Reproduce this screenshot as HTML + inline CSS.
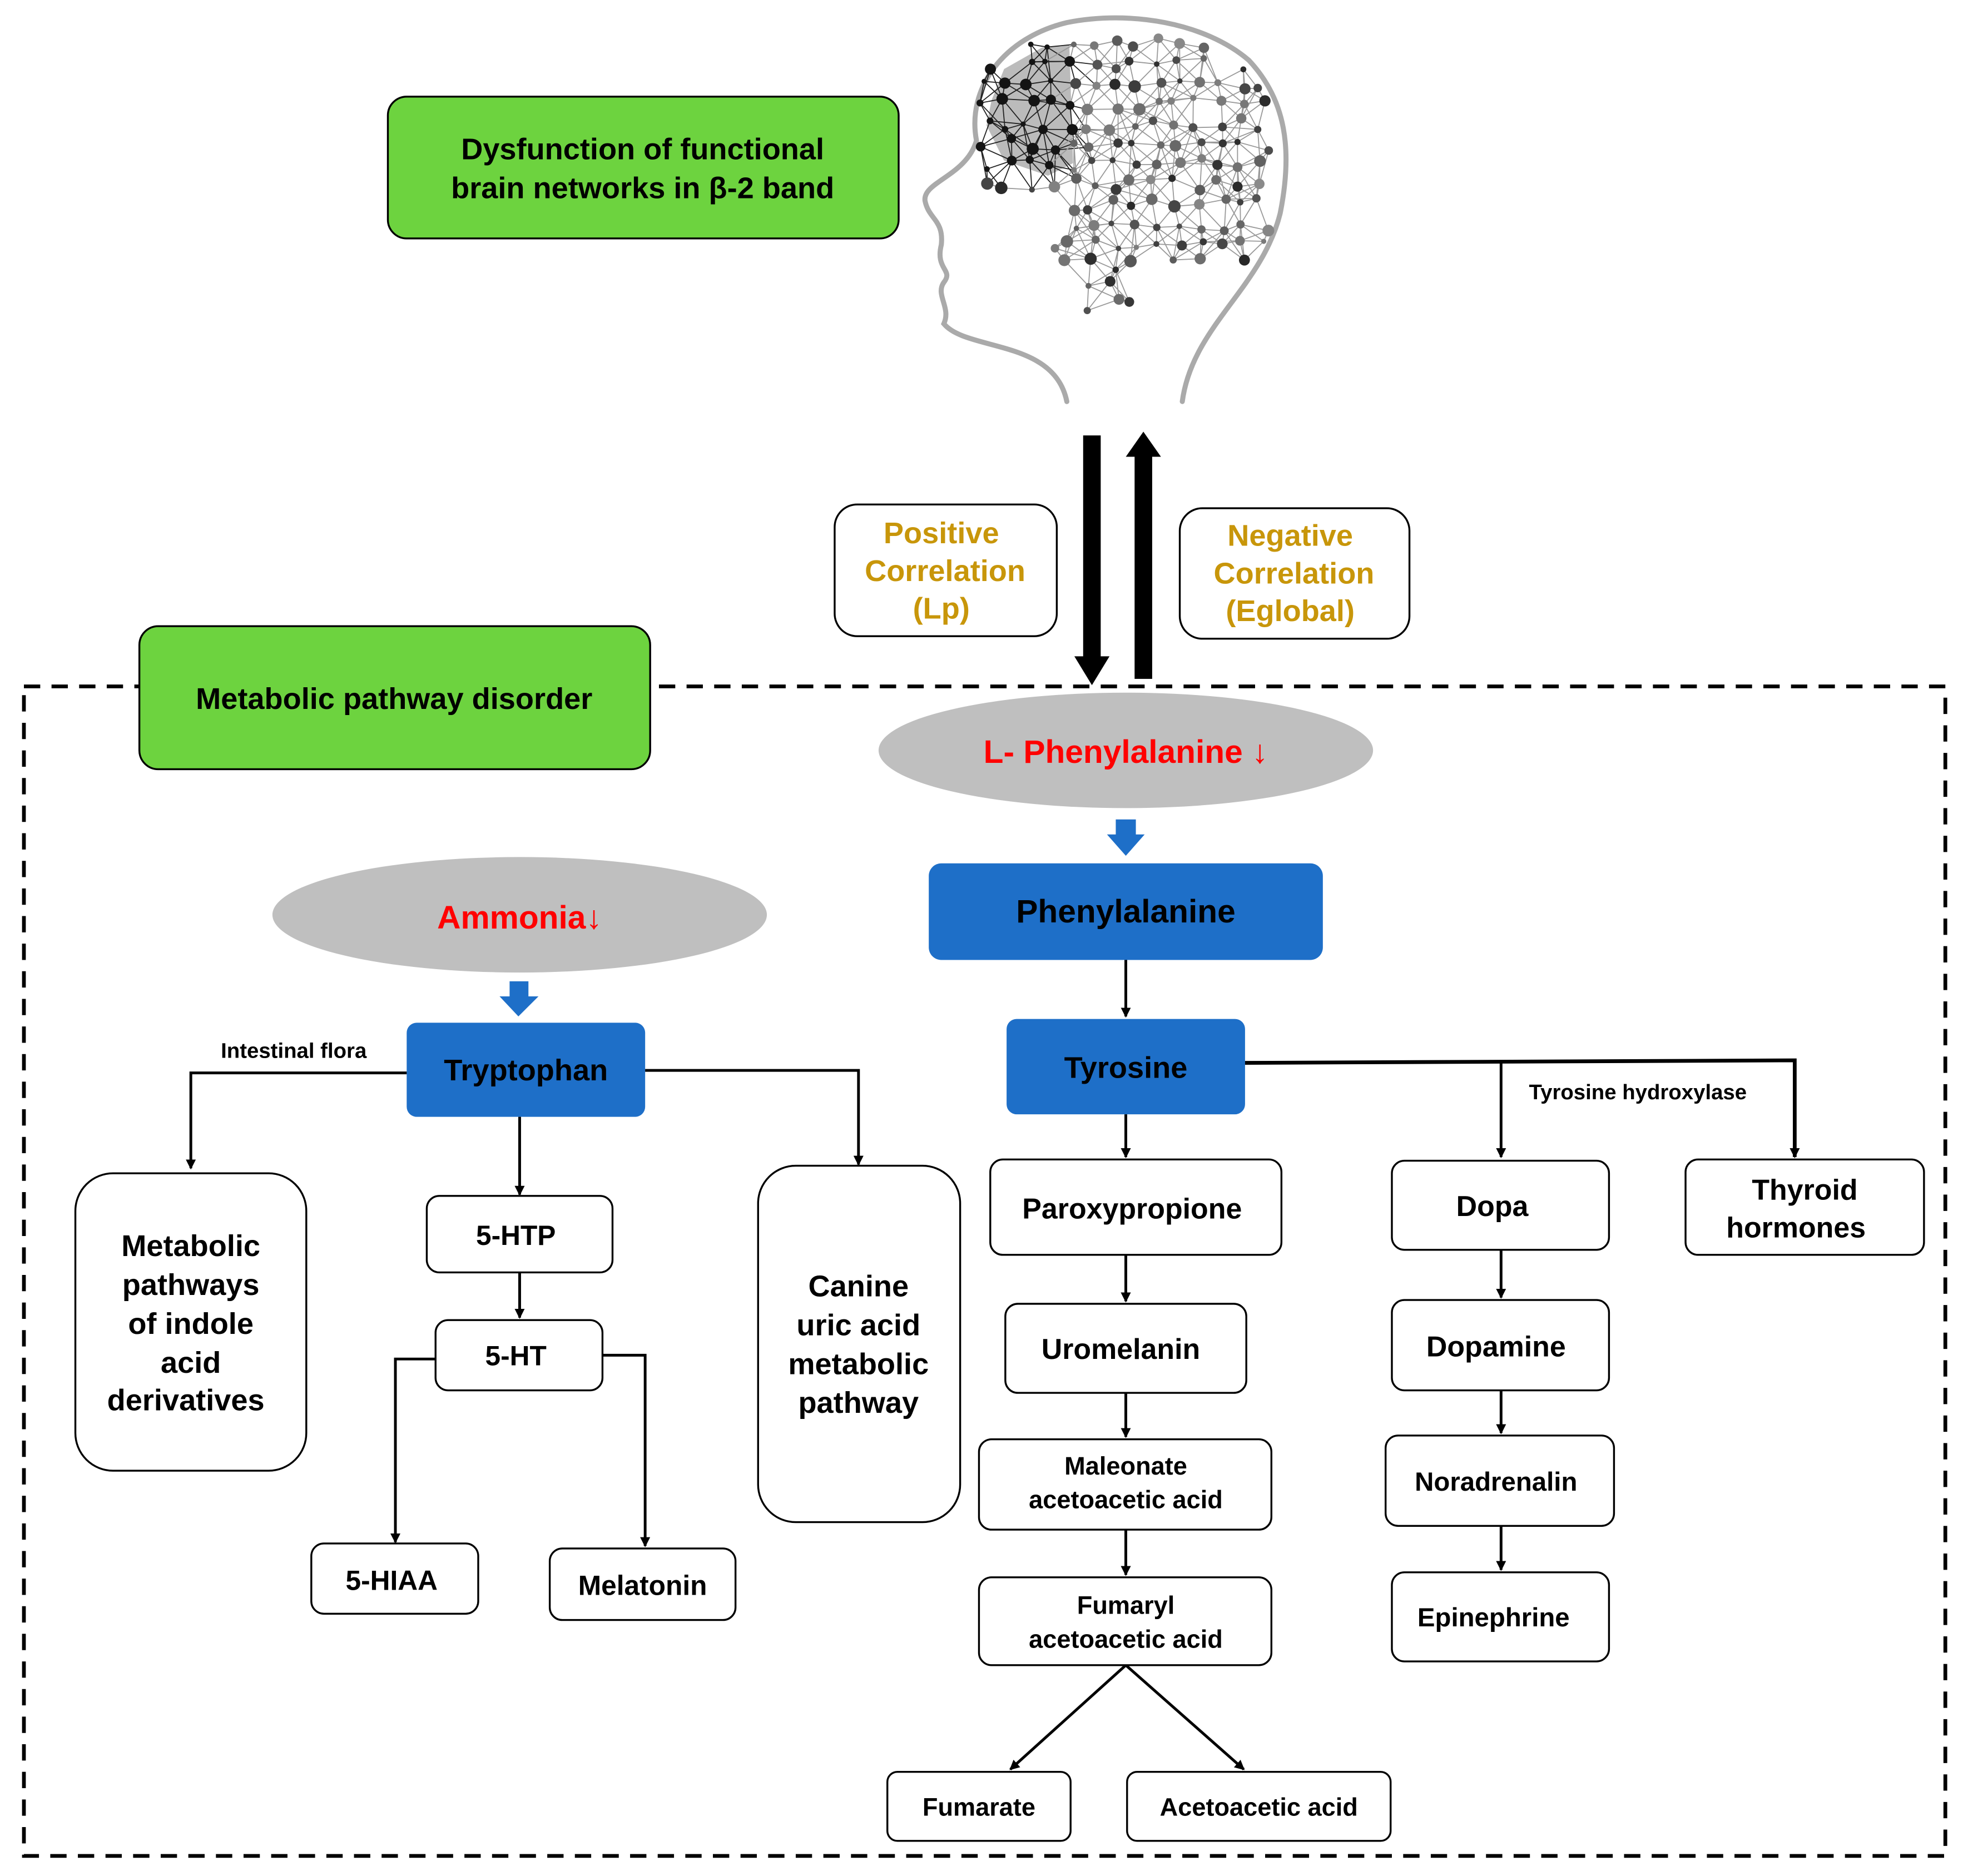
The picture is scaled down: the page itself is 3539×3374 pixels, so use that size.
<!DOCTYPE html>
<html><head><meta charset="utf-8"><style>
html,body{margin:0;padding:0;background:#fff}
svg{display:block}
text{font-family:"Liberation Sans",Arial,sans-serif;font-weight:bold;text-anchor:middle}
.b{fill:#fff;stroke:#000;stroke-width:1.5}
.l{stroke:#000;stroke-width:2.2;fill:none}
</style></head><body>
<svg id="s" width="3539" height="3374" viewBox="0 0 1568 1495" xmlns="http://www.w3.org/2000/svg">
<defs><marker id="a" markerWidth="8" markerHeight="8" refX="7" refY="4" orient="auto" markerUnits="userSpaceOnUse"><path d="M0,0 L8,4 L0,8 z" fill="#000"/></marker></defs>
<g fill="none" stroke="#aaa" stroke-width="4" stroke-linecap="round">
<path d="M778,112 C770,70 800,30 850,18 C900,8 960,18 995,48 C1025,80 1030,120 1020,170 C1005,230 950,260 942,320"/>
<path d="M778,112 C770,140 735,145 737,160 C740,175 752,175 750,195 C745,215 760,215 752,225 C745,235 758,245 752,258 C770,280 840,270 850,320"/>
</g>
<polygon points="790,80 800,55 830,38 852,36 855,130 835,140 800,128 786,100" fill="#bbb"/>
<g id="net"></g>
<rect x="309" y="77" width="407" height="113" rx="15" fill="#6dd33f" stroke="#000" stroke-width="1.5"/>
<text x="512" y="127" font-size="24">Dysfunction of functional</text>
<text x="512" y="158" font-size="24">brain networks in β-2 band</text>
<rect x="863" y="347" width="14" height="178" fill="#000"/>
<polygon points="856,523 884,523 870,546" fill="#000"/>
<rect x="904" y="362" width="14" height="179" fill="#000"/>
<polygon points="897,364 925,364 911,344" fill="#000"/>
<rect x="665" y="402" width="177" height="105" rx="18" class="b"/>
<g fill="#c8960a" font-size="24"><text x="750" y="433">Positive</text><text x="753" y="463">Correlation</text><text x="750" y="493">(Lp)</text></g>
<rect x="940" y="405" width="183" height="104" rx="18" class="b"/>
<g fill="#c8960a" font-size="24"><text x="1028" y="435">Negative</text><text x="1031" y="465">Correlation</text><text x="1028" y="495">(Eglobal)</text></g>
<rect x="19" y="547" width="1531" height="932" fill="none" stroke="#000" stroke-width="3" stroke-dasharray="13,9"/>
<rect x="111" y="499" width="407" height="114" rx="15" fill="#6dd33f" stroke="#000" stroke-width="1.5"/>
<text x="314" y="565" font-size="24">Metabolic pathway disorder</text>
<ellipse cx="897" cy="598" rx="197" ry="46" fill="#bfbfbf"/>
<text x="897" y="608" font-size="26" fill="#ff0000">L- Phenylalanine ↓</text>
<polygon points="889,653 905,653 905,665 912,665 897,682 882,665 889,665" fill="#1e6fc8"/>
<rect x="740" y="688" width="314" height="77" rx="10" fill="#1e6fc8"/>
<text x="897" y="735" font-size="26">Phenylalanine</text>
<ellipse cx="414" cy="729" rx="197" ry="46" fill="#bfbfbf"/>
<text x="414" y="740" font-size="26" fill="#ff0000">Ammonia↓</text>
<polygon points="406,782 421,782 421,794 429,794 413,810 398,794 406,794" fill="#1e6fc8"/>
<rect x="324" y="815" width="190" height="75" rx="8" fill="#1e6fc8"/>
<text x="419" y="861" font-size="24">Tryptophan</text>
<rect x="802" y="812" width="190" height="76" rx="8" fill="#1e6fc8"/>
<text x="897" y="859" font-size="24">Tyrosine</text>
<path class="l" d="M324,855 H152 V931" marker-end="url(#a)"/>
<text x="234" y="843" font-size="17">Intestinal flora</text>
<path class="l" d="M514,853 H684 V928" marker-end="url(#a)"/>
<path class="l" d="M414,890 V952" marker-end="url(#a)"/>
<path class="l" d="M414,1014 V1050" marker-end="url(#a)"/>
<path class="l" d="M347,1083 H315 V1229" marker-end="url(#a)"/>
<path class="l" d="M480,1080 H514 V1232" marker-end="url(#a)"/>
<path class="l" d="M897,765 V810" marker-end="url(#a)"/>
<path class="l" d="M897,888 V922" marker-end="url(#a)"/>
<path class="l" d="M897,1000 V1037" marker-end="url(#a)"/>
<path class="l" d="M897,1110 V1145" marker-end="url(#a)"/>
<path class="l" d="M897,1219 V1255" marker-end="url(#a)"/>
<path class="l" d="M897,1327 L805,1410" marker-end="url(#a)"/>
<path class="l" d="M897,1327 L991,1410" marker-end="url(#a)"/>
<path class="l" style="stroke-width:3" d="M992,847 L1430,845 V922" marker-end="url(#a)"/>
<path class="l" d="M1196,846 V922" marker-end="url(#a)"/>
<text x="1305" y="876" font-size="17">Tyrosine hydroxylase</text>
<path class="l" d="M1196,996 V1034" marker-end="url(#a)"/>
<path class="l" d="M1196,1108 V1142" marker-end="url(#a)"/>
<path class="l" d="M1196,1216 V1251" marker-end="url(#a)"/>
<rect x="60" y="935" width="184" height="237" rx="30" class="b"/>
<g font-size="24"><text x="152" y="1001">Metabolic</text><text x="152" y="1032">pathways</text><text x="152" y="1063">of indole</text><text x="152" y="1094">acid</text><text x="148" y="1124">derivatives</text></g>
<rect x="340" y="953" width="148" height="61" rx="10" class="b"/><text x="411" y="992" font-size="22">5-HTP</text>
<rect x="347" y="1052" width="133" height="56" rx="10" class="b"/><text x="411" y="1088" font-size="22">5-HT</text>
<rect x="248" y="1230" width="133" height="56" rx="10" class="b"/><text x="312" y="1267" font-size="22">5-HIAA</text>
<rect x="438" y="1234" width="148" height="57" rx="10" class="b"/><text x="512" y="1271" font-size="22">Melatonin</text>
<rect x="604" y="929" width="161" height="284" rx="30" class="b"/>
<g font-size="24"><text x="684" y="1033">Canine</text><text x="684" y="1064">uric acid</text><text x="684" y="1095">metabolic</text><text x="684" y="1126">pathway</text></g>
<rect x="789" y="924" width="232" height="76" rx="10" class="b"/><text x="902" y="971" font-size="23">Paroxypropione</text>
<rect x="801" y="1039" width="192" height="71" rx="10" class="b"/><text x="893" y="1083" font-size="23">Uromelanin</text>
<rect x="780" y="1147" width="233" height="72" rx="10" class="b"/><text x="897" y="1175" font-size="20">Maleonate</text><text x="897" y="1202" font-size="20">acetoacetic acid</text>
<rect x="780" y="1257" width="233" height="70" rx="10" class="b"/><text x="897" y="1286" font-size="20">Fumaryl</text><text x="897" y="1313" font-size="20">acetoacetic acid</text>
<rect x="707" y="1412" width="146" height="55" rx="8" class="b"/><text x="780" y="1447" font-size="20">Fumarate</text>
<rect x="898" y="1412" width="210" height="55" rx="8" class="b"/><text x="1003" y="1447" font-size="20">Acetoacetic acid</text>
<rect x="1109" y="925" width="173" height="71" rx="10" class="b"/><text x="1189" y="969" font-size="23">Dopa</text>
<rect x="1109" y="1036" width="173" height="72" rx="10" class="b"/><text x="1192" y="1081" font-size="23">Dopamine</text>
<rect x="1104" y="1144" width="182" height="72" rx="10" class="b"/><text x="1192" y="1188" font-size="21">Noradrenalin</text>
<rect x="1109" y="1253" width="173" height="71" rx="10" class="b"/><text x="1190" y="1296" font-size="21">Epinephrine</text>
<rect x="1343" y="924" width="190" height="76" rx="10" class="b"/><text x="1438" y="956" font-size="23">Thyroid</text><text x="1431" y="986" font-size="23">hormones</text>
</svg>
<script>
(function(){
var g=document.getElementById('net'),ns='http://www.w3.org/2000/svg',s=7,pts=[];
function r(){s=(s*16807)%2147483647;return s/2147483647;}
for(var y=35;y<250;y+=16){for(var x=785;x<1018;x+=17){
 var px=x+r()*10-5,py=y+r()*10-5;
 if(py>210&&(px<860||px>900))continue;
 if(py>160&&px<838)continue;
 if(py<55&&(px<820||px>960))continue;
 pts.push([px,py]);}}
pts.forEach(function(p,i){pts.forEach(function(q,j){if(j>i){var d=Math.hypot(p[0]-q[0],p[1]-q[1]);if(d<30){var l=document.createElementNS(ns,'line');l.setAttribute('x1',p[0]);l.setAttribute('y1',p[1]);l.setAttribute('x2',q[0]);l.setAttribute('y2',q[1]);l.setAttribute('stroke',p[0]<855&&p[1]<135?'#222':'#999');l.setAttribute('stroke-width','0.8');g.appendChild(l);}}});});
pts.forEach(function(p){var c=document.createElementNS(ns,'circle');c.setAttribute('cx',p[0]);c.setAttribute('cy',p[1]);c.setAttribute('r',2+r()*3);var dk=p[0]<855&&p[1]<135;var v=dk?20:Math.floor(40+r()*100);c.setAttribute('fill','rgb('+v+','+v+','+v+')');g.appendChild(c);});
})();
</script>
</body></html>
